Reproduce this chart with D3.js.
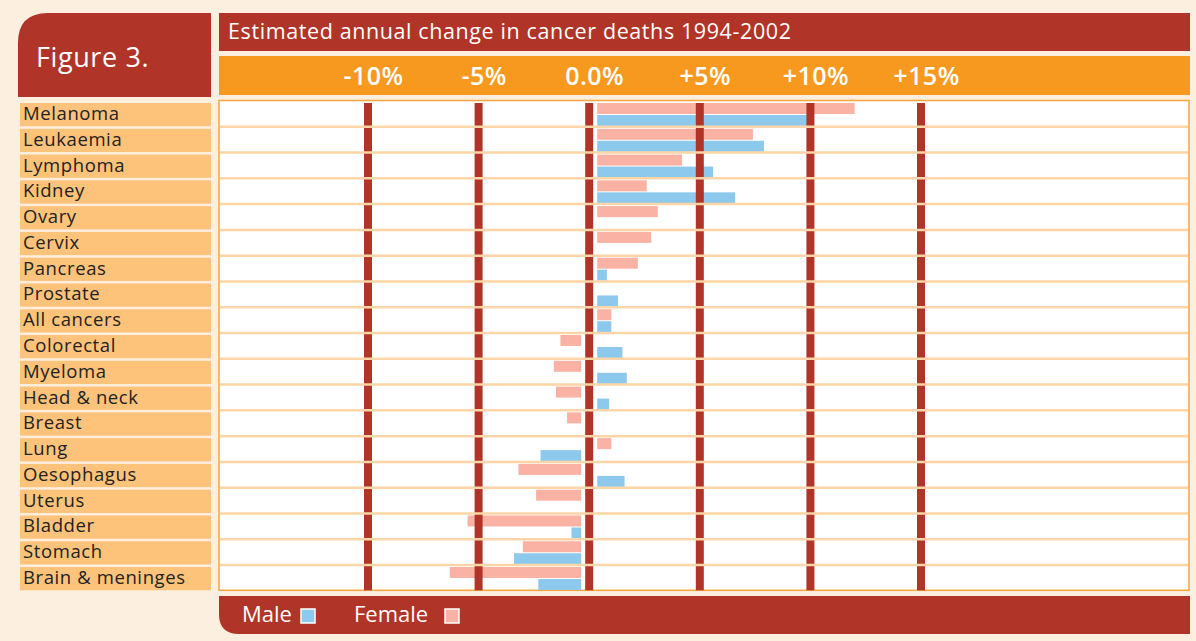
<!DOCTYPE html>
<html>
<head>
<meta charset="utf-8">
<script src="https://cdn.jsdelivr.net/npm/d3@7"></script>
<style>
  body { margin: 0; background: #fdefdf; }
  svg { display: block; font-family: "Open Sans", sans-serif; }
</style>
</head>
<body>
<div id="chart"></div>
<script>
// data (% change per year)
var categories = ["Melanoma", "Leukaemia", "Lymphoma", "Kidney", "Ovary", "Cervix", "Pancreas",
  "Prostate", "All cancers", "Colorectal", "Myeloma", "Head & neck", "Breast", "Lung",
  "Oesophagus", "Uterus", "Bladder", "Stomach", "Brain & meninges"];
var female = [12.0, 7.4, 4.2, 2.6, 3.1, 2.8, 2.2, null, 1.0, -1.3, -1.6, -1.5, -1.0, 1.0,
  -3.2, -2.4, -5.5, -3.0, -6.3];
var male = [9.9, 7.9, 5.6, 6.6, null, null, 0.8, 1.3, 1.0, 1.5, 1.7, 0.9, null, -2.2,
  1.6, null, -0.8, -3.4, -2.3];
var tickValues = [-10, -5, 0, 5, 10, 15];
var tickLabels = ["-10%", "-5%", "0.0%", "+5%", "+10%", "+15%"];

var W = 1196, H = 641;
var darkRed = "#b03427", orange = "#f8991f", cream = "#fdefdf",
    band = "#fdc37b", sep = "#fdd5a6", pink = "#f9b2a4", blue = "#8dc9ec";

var plot = {left: 219, right: 1189, top: 100.5, bottom: 590.3};

var x = d3.scaleLinear().domain([-10, 15]).range([368, 921]);
var y = d3.scaleBand().domain(categories).range([plot.top, plot.bottom]);
var bh = y.bandwidth();

var svg = d3.select("#chart").append("svg")
    .attr("width", W)
    .attr("height", H);

svg.append("rect").attr("width", W).attr("height", H).attr("fill", cream);

// Figure 3. box with rounded top-left corner
var r = 30;
svg.append("path")
    .attr("d", "M18," + (13 + r) + " Q18,13 " + (18 + r) + ",13 L211,13 L211,97 L18,97 Z")
    .attr("fill", darkRed);
svg.append("text")
    .attr("x", 36).attr("y", 67)
    .attr("fill", "#fff")
    .style("font-size", "27px")
    .style("letter-spacing", "0.6px")
    .text("Figure 3.");

// title bar
svg.append("rect").attr("x", 219).attr("y", 13).attr("width", 971).attr("height", 38).attr("fill", darkRed);
svg.append("text")
    .attr("x", 228).attr("y", 39)
    .attr("fill", "#fff")
    .style("font-size", "21.5px")
    .attr("textLength", 563)
    .attr("lengthAdjust", "spacing")
    .text("Estimated annual change in cancer deaths 1994-2002");

// orange tick bar
svg.append("rect").attr("x", 219).attr("y", 56).attr("width", 971).attr("height", 39).attr("fill", orange);
var axis = svg.append("g")
    .attr("transform", "translate(5,85)")
    .call(d3.axisTop(x).tickValues(tickValues).tickSize(0)
      .tickFormat(function(d, i){ return tickLabels[i]; }));
axis.select(".domain").remove();
axis.selectAll("text")
    .attr("y", 0).attr("dy", 0)
    .attr("fill", "#fff")
    .style("font-family", "\"Open Sans\", sans-serif")
    .style("font-size", "25px")
    .style("font-weight", "600")
    .style("letter-spacing", "0.5px");

// plot area
svg.append("rect")
    .attr("x", plot.left).attr("y", plot.top)
    .attr("width", plot.right - plot.left).attr("height", plot.bottom - plot.top)
    .attr("fill", "#fff").attr("stroke", "#f8a53c").attr("stroke-width", 1.5);

// row label bands
var rows = svg.append("g");
rows.selectAll("rect").data(categories).enter().append("rect")
    .attr("x", 20).attr("width", 191)
    .attr("y", function(d){ return y(d) + 2.5; })
    .attr("height", bh - 2.5)
    .attr("fill", band);
rows.selectAll("text").data(categories).enter().append("text")
    .attr("x", 23)
    .attr("y", function(d){ return y(d) + 19.5; })
    .attr("fill", "#222")
    .style("font-size", "18.5px")
    .style("letter-spacing", "0.6px")
    .text(function(d){ return d; });

// bars: female on top half, male on bottom half of each row
function barX(v){ return v >= 0 ? x(0) + 8 : x(v); }
function barW(v){ return v >= 0 ? x(v) - x(0) - 8 : x(0) - 8 - x(v); }

svg.append("g").selectAll("rect")
    .data(categories.map(function(c, i){ return {c: c, v: female[i]}; })
      .filter(function(d){ return d.v !== null; }))
  .enter().append("rect")
    .attr("x", function(d){ return barX(d.v); })
    .attr("width", function(d){ return barW(d.v); })
    .attr("y", function(d){ return y(d.c) + 2.5; })
    .attr("height", 11)
    .attr("fill", pink);

svg.append("g").selectAll("rect")
    .data(categories.map(function(c, i){ return {c: c, v: male[i]}; })
      .filter(function(d){ return d.v !== null; }))
  .enter().append("rect")
    .attr("x", function(d){ return barX(d.v); })
    .attr("width", function(d){ return barW(d.v); })
    .attr("y", function(d){ return y(d.c) + 14.5; })
    .attr("height", 11)
    .attr("fill", blue);

// thick gridlines
svg.append("g").selectAll("rect").data(tickValues).enter().append("rect")
    .attr("x", function(d){ return x(d) - 4; })
    .attr("width", 8)
    .attr("y", plot.top + 2.5)
    .attr("height", plot.bottom - plot.top - 2.5)
    .attr("fill", darkRed);

// row separators
svg.append("g").selectAll("line").data(categories.slice(1)).enter().append("line")
    .attr("x1", plot.left + 1).attr("x2", plot.right - 1)
    .attr("y1", function(d){ return y(d) + 0.5; })
    .attr("y2", function(d){ return y(d) + 0.5; })
    .attr("stroke", sep).attr("stroke-width", 2.5);

// legend bar with rounded bottom-left corner
var lr = 20;
svg.append("path")
    .attr("d", "M219,596 L1190,596 L1190,634 L" + (219 + lr) + ",634 Q219,634 219," + (634 - lr) + " Z")
    .attr("fill", darkRed);
var legend = [{label: "Male", color: blue, x: 242, sq: 301}, {label: "Female", color: pink, x: 354, sq: 445}];
svg.selectAll(".leg").data(legend).enter().append("text")
    .attr("class", "leg")
    .attr("x", function(d){ return d.x; }).attr("y", 622)
    .attr("fill", "#fff")
    .style("font-size", "22px")
    .text(function(d){ return d.label; });
svg.selectAll(".legsq").data(legend).enter().append("rect")
    .attr("class", "legsq")
    .attr("x", function(d){ return d.sq; }).attr("y", 609)
    .attr("width", 14).attr("height", 14)
    .attr("fill", function(d){ return d.color; })
    .attr("stroke", "#fff").attr("stroke-width", 1.5);
</script>
</body>
</html>
